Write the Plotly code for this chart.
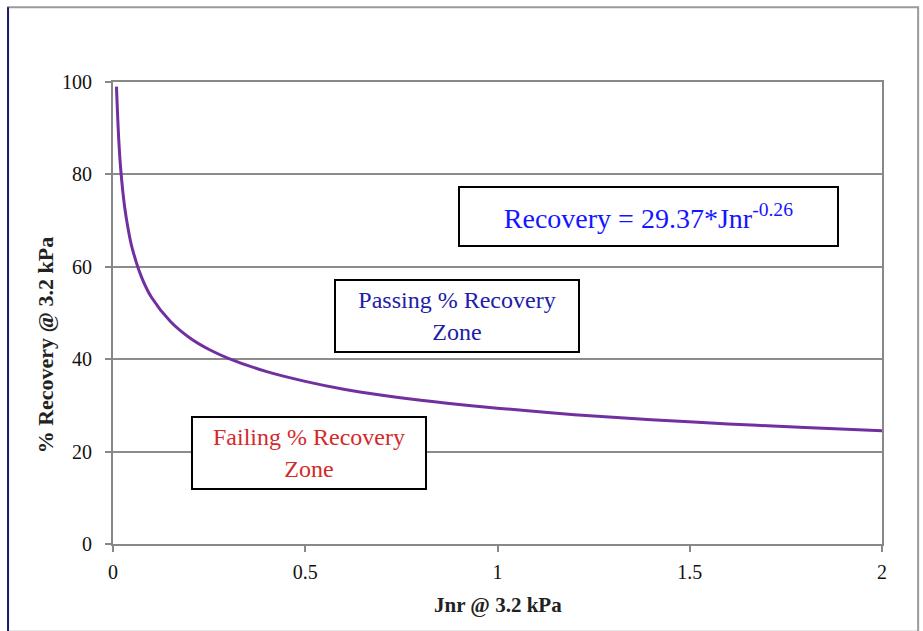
import plotly.graph_objects as go

# Values
jnr = [0.009, 0.012, 0.015, 0.02, 0.03, 0.04, 0.05, 0.075, 0.1, 0.15, 0.2, 0.25, 0.3, 0.4, 0.5,
       0.6, 0.7, 0.8, 0.9, 1.0, 1.2, 1.4, 1.6, 1.8, 2.0]
recovery = [99.0, 92.8, 87.5, 81.2, 73.1, 67.9, 64.0, 57.6, 53.4, 48.1, 44.6, 42.1, 40.2, 37.3, 35.2,
            33.5, 32.2, 31.1, 30.2, 29.4, 28.0, 26.9, 26.0, 25.2, 24.5]

x_ticks = [0, 0.5, 1, 1.5, 2]
x_tick_text = ["0", "0.5", "1", "1.5", "2"]
y_ticks = [0, 20, 40, 60, 80, 100]

serif = "Liberation Serif"

fig = go.Figure()
fig.add_trace(go.Scatter(x=jnr, y=recovery, mode="lines",
                         line=dict(color="#7030A0", width=3, shape="spline"),
                         showlegend=False, hoverinfo="skip"))

fig.update_layout(
    width=923, height=631,
    margin=dict(l=113, r=41, t=82, b=87),
    paper_bgcolor="white", plot_bgcolor="white",
    font=dict(family=serif, size=16, color="black"),
    xaxis=dict(range=[0, 2], tickvals=x_ticks, ticktext=x_tick_text,
               showgrid=False, zeroline=False, showline=True, linecolor="#888888", linewidth=2,
               mirror=True, ticks="outside", ticklen=6, tickcolor="#888888", tickwidth=2,
               ticklabelstandoff=3,
               tickfont=dict(family=serif, size=20, color="#111111")),
    yaxis=dict(range=[0, 100], tickvals=y_ticks,
               showgrid=True, gridcolor="#8c8c8c", gridwidth=2, zeroline=False,
               showline=True, linecolor="#888888", linewidth=2, mirror=True,
               ticks="outside", ticklen=6, tickcolor="#888888", tickwidth=2,
               ticklabelstandoff=9,
               tickfont=dict(family=serif, size=20, color="#111111")),
)

# Outer chart frame
fig.add_shape(type="rect", xref="paper", yref="paper", x0=-0.1365, x1=1.047, y0=-0.19, y1=1.162,
              line=dict(color="#9a9a9a", width=2), layer="below")
fig.add_shape(type="line", xref="paper", yref="paper", x0=-0.1365, x1=-0.1365, y0=-0.19, y1=1.162,
              line=dict(color="#1a1a6e", width=2))

# Axis titles
fig.add_annotation(text="<b>% Recovery @ 3.2 kPa</b>", xref="paper", yref="paper",
                   x=-0.0884, y=0.43, xanchor="center", yanchor="middle",
                   textangle=-90, showarrow=False,
                   font=dict(family=serif, size=22, color="#222222"))
fig.add_annotation(text="<b>Jnr @ 3.2 kPa</b>", xref="paper", yref="paper",
                   x=0.5, y=-0.132, xanchor="center", yanchor="middle", showarrow=False,
                   font=dict(family=serif, size=21, color="#222222"))

# Text boxes
fig.add_annotation(text="Recovery = 29.37*Jnr<sup>-0.26</sup>", x=1.393, y=70.9,
                   xref="x", yref="y", showarrow=False, width=377, height=57,
                   bordercolor="black", borderwidth=2, borderpad=0, bgcolor="white",
                   font=dict(family=serif, size=28, color="#1515ff"))
fig.add_annotation(text="Passing % Recovery<br>Zone", x=0.895, y=49.4,
                   xref="x", yref="y", showarrow=False, width=242, height=70,
                   bordercolor="black", borderwidth=2, borderpad=0, bgcolor="white",
                   font=dict(family=serif, size=24, color="#2020a8"))
fig.add_annotation(text="Failing % Recovery<br>Zone", x=0.510, y=19.7,
                   xref="x", yref="y", showarrow=False, width=232, height=70,
                   bordercolor="black", borderwidth=2, borderpad=0, bgcolor="white",
                   font=dict(family=serif, size=24, color="#d42a2a"))

fig.write_html("out.html")
